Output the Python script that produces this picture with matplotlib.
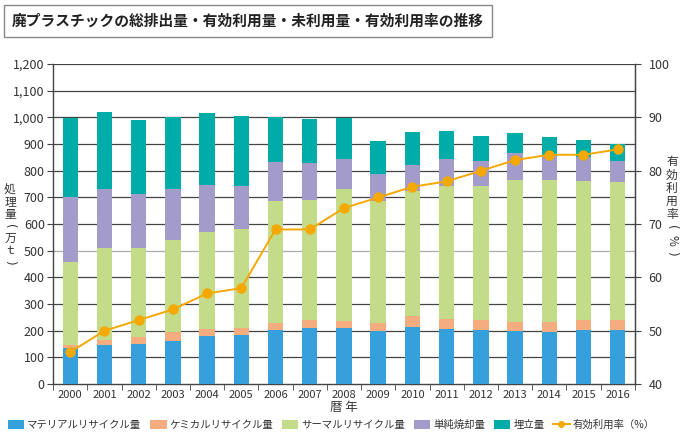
import numpy as np
import matplotlib
matplotlib.use("Agg")
import matplotlib.pyplot as plt
from matplotlib.patches import Patch
from matplotlib.lines import Line2D

plt.rcParams['font.family'] = ['Noto Sans CJK JP', 'DejaVu Sans']

# data (万t, %)
years = [str(y) for y in range(2000, 2017)]
material = [137, 145, 151, 163, 180, 183, 202, 212, 212, 200, 216, 208, 203, 200, 197, 204, 204]
chemical = [11, 21, 25, 33, 28, 28, 27, 27, 25, 29, 40, 36, 39, 32, 35, 38, 38]
thermal = [311, 346, 336, 345, 364, 370, 458, 452, 495, 459, 467, 499, 501, 534, 534, 521, 516]
incineration = [241, 220, 202, 192, 176, 163, 147, 137, 113, 101, 97, 102, 95, 99, 91, 87, 80]
landfill = [298, 287, 275, 267, 267, 262, 168, 166, 153, 122, 124, 105, 91, 75, 68, 65, 61]
rate = [46, 50, 52, 54, 57, 58, 69, 69, 73, 75, 77, 78, 80, 82, 83, 83, 84]

labels = ['マテリアルリサイクル量', 'ケミカルリサイクル量', 'サーマルリサイクル量',
          '単純焼却量', '埋立量']
colors = ['#36a0dc', '#f5ad80', '#c4dc8a', '#a39bc9', '#00aca8']
line_color = '#f5a800'
text_color = '#333333'

W, H = 690, 436
fig = plt.figure(figsize=(W / 100, H / 100), dpi=100)
ax = fig.add_axes([0.077, 0.119, 0.843, 0.734])

x = np.arange(len(years))
bottom = np.zeros(len(years))
for vals, lab, col in zip([material, chemical, thermal, incineration, landfill], labels, colors):
    ax.bar(x, vals, width=0.45, bottom=bottom, color=col, label=lab, zorder=3)
    bottom += np.array(vals)

ax.set_xlim(-0.5, len(years) - 0.5)
ax.set_ylim(0, 1200)
ax.set_yticks(range(0, 1201, 100))
ax.set_yticklabels([f'{v:,}' for v in range(0, 1201, 100)], fontsize=9, color=text_color)
for v in range(100, 1201, 100):
    ax.axhline(v, color='#aaaaaa' if v == 500 else '#444444', lw=0.9, zorder=1)

ax.set_xticks(x)
ax.set_xticklabels(years, fontsize=8, color=text_color)
ax.set_xticks(np.arange(-0.5, len(years), 1), minor=True)
ax.tick_params(axis='x', which='major', length=0, pad=4)
ax.tick_params(axis='x', which='minor', length=4, color='#444444', direction='out')
ax.tick_params(axis='y', length=4, color='#444444', direction='out', pad=2)

ax.spines['top'].set_visible(False)
for s in ['left', 'bottom', 'right']:
    ax.spines[s].set_color('#444444')
    ax.spines[s].set_linewidth(1.0)

ax2 = ax.twinx()
ax2.plot(x, rate, color=line_color, lw=1.4, marker='o', markersize=6.5, zorder=5)
ax2.set_ylim(40, 100)
ax2.set_yticks(range(40, 101, 10))
ax2.set_yticklabels([str(v) for v in range(40, 101, 10)], fontsize=9, color=text_color)
ax2.tick_params(axis='y', length=4, color='#444444', direction='out', pad=6)
ax2.spines['top'].set_visible(False)
ax2.spines['right'].set_color('#444444')
ax2.spines['left'].set_visible(False)
ax2.spines['bottom'].set_visible(False)


# vertical axis titles, one character at a time (pixel positions from top)
def vertical_label(chars, xpix, ytop, step):
    for i, ch in enumerate(chars):
        rot = -90 if ch in '()%' else 0
        fig.text(xpix / W, 1 - (ytop + i * step) / H, ch, fontsize=8.5, color=text_color,
                 ha='center', va='center', rotation=rot, rotation_mode='anchor',
                 family=['DejaVu Sans'] if ch in '()' else None)


vertical_label('処理量(万ｔ)', 10, 190, 12)
vertical_label('有効利用率(%)', 672, 162, 13)

fig.text(0.498, 0.066, '暦 年', fontsize=9, color=text_color, ha='center', va='center')

# title
fig.text(0.0175, 0.952, '廃プラスチックの総排出量・有効利用量・未利用量・有効利用率の推移',
         fontsize=10.6, fontweight='bold', color='#222222', ha='left', va='center',
         bbox=dict(boxstyle='square,pad=0.55', facecolor='white', edgecolor='#888888', lw=1.0))

handles = [Patch(facecolor=c, label=l) for c, l in zip(colors, labels)]
handles.append(Line2D([0], [0], color=line_color, lw=1.4, marker='o', markersize=4,
                      label='有効利用率（%）'))
fig.legend(handles=handles, loc='center', bbox_to_anchor=(0.48, 0.025), ncol=6,
           frameon=False, fontsize=7.5, handlelength=1.6, handleheight=1.0,
           handletextpad=0.3, columnspacing=0.8, labelcolor=text_color)

fig.savefig('out.png', dpi=100)
